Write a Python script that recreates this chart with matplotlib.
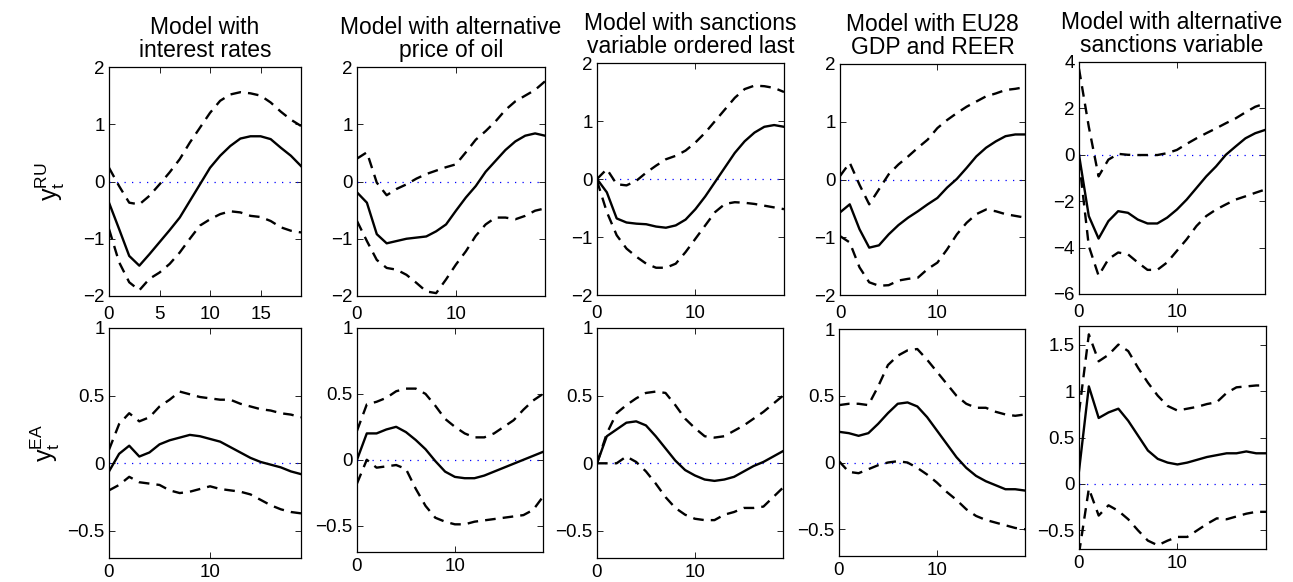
import numpy as np
import matplotlib
matplotlib.use("Agg")
import matplotlib.pyplot as plt
from matplotlib.ticker import FuncFormatter

plt.rcParams['font.family'] = ['Liberation Sans', 'DejaVu Sans']
plt.rcParams['axes.unicode_minus'] = True

# horizons 0..19
h = np.arange(20)

titles = ["Model with\ninterest rates",
          "Model with alternative\nprice of oil",
          "Model with sanctions\nvariable ordered last",
          "Model with EU28\nGDP and REER",
          "Model with alternative\nsanctions variable"]

# ---- Russian output (top row): median, upper band, lower band ----
ru_mid = [
    [-0.37, -0.83, -1.3, -1.47, -1.27, -1.06, -0.85, -0.63, -0.34, -0.05, 0.24, 0.45, 0.62, 0.75, 0.79, 0.79, 0.74, 0.59, 0.45, 0.27],
    [-0.19, -0.37, -0.92, -1.08, -1.04, -1.0, -0.98, -0.96, -0.87, -0.75, -0.51, -0.28, -0.08, 0.17, 0.36, 0.55, 0.7, 0.8, 0.84, 0.8],
    [0.0, -0.23, -0.68, -0.75, -0.77, -0.78, -0.82, -0.84, -0.8, -0.7, -0.52, -0.3, -0.05, 0.2, 0.45, 0.65, 0.8, 0.9, 0.93, 0.9],
    [-0.57, -0.43, -0.86, -1.18, -1.14, -0.95, -0.79, -0.66, -0.55, -0.43, -0.32, -0.14, 0.01, 0.2, 0.4, 0.55, 0.66, 0.75, 0.78, 0.78],
    [0.0, -2.64, -3.61, -2.86, -2.43, -2.5, -2.79, -2.96, -2.96, -2.71, -2.36, -1.93, -1.43, -0.93, -0.5, 0.0, 0.36, 0.71, 0.93, 1.07],
]
ru_up = [
    [0.24, -0.08, -0.37, -0.4, -0.25, -0.05, 0.16, 0.39, 0.68, 0.94, 1.2, 1.41, 1.52, 1.56, 1.54, 1.5, 1.38, 1.22, 1.08, 0.97],
    [0.4, 0.51, -0.02, -0.24, -0.13, -0.05, 0.05, 0.13, 0.19, 0.25, 0.3, 0.51, 0.73, 0.88, 1.05, 1.25, 1.4, 1.5, 1.6, 1.75],
    [0.0, 0.17, -0.09, -0.11, -0.03, 0.11, 0.23, 0.34, 0.4, 0.49, 0.63, 0.8, 1.0, 1.2, 1.4, 1.55, 1.61, 1.6, 1.57, 1.5],
    [0.06, 0.29, -0.09, -0.43, -0.17, 0.09, 0.26, 0.4, 0.55, 0.69, 0.89, 1.03, 1.15, 1.26, 1.35, 1.44, 1.49, 1.55, 1.57, 1.6],
    [3.71, 1.21, -0.93, -0.21, 0.04, 0.0, -0.01, -0.01, -0.01, 0.07, 0.21, 0.47, 0.71, 0.93, 1.14, 1.36, 1.57, 1.83, 2.07, 2.21],
]
ru_lo = [
    [-0.83, -1.41, -1.76, -1.9, -1.7, -1.59, -1.44, -1.24, -1.0, -0.77, -0.66, -0.57, -0.52, -0.54, -0.6, -0.62, -0.69, -0.8, -0.86, -0.89],
    [-0.69, -1.04, -1.37, -1.51, -1.54, -1.63, -1.77, -1.92, -1.95, -1.71, -1.45, -1.22, -0.95, -0.75, -0.63, -0.63, -0.66, -0.6, -0.51, -0.47],
    [-0.03, -0.57, -0.97, -1.2, -1.34, -1.46, -1.53, -1.53, -1.46, -1.26, -1.03, -0.8, -0.57, -0.43, -0.4, -0.41, -0.43, -0.46, -0.49, -0.52],
    [-0.98, -1.09, -1.52, -1.78, -1.84, -1.83, -1.75, -1.72, -1.7, -1.55, -1.44, -1.21, -0.95, -0.75, -0.6, -0.52, -0.55, -0.6, -0.63, -0.66],
    [-0.21, -3.93, -5.21, -4.5, -4.21, -4.29, -4.64, -4.96, -4.96, -4.64, -4.14, -3.64, -3.07, -2.64, -2.36, -2.14, -1.93, -1.79, -1.64, -1.5],
]

# ---- Euro area output (bottom row) ----
ea_mid = [
    [-0.06, 0.07, 0.13, 0.05, 0.08, 0.14, 0.17, 0.19, 0.21, 0.2, 0.18, 0.16, 0.12, 0.08, 0.04, 0.01, -0.01, -0.03, -0.06, -0.08],
    [0.0, 0.2, 0.2, 0.23, 0.25, 0.21, 0.15, 0.08, -0.01, -0.09, -0.13, -0.14, -0.14, -0.12, -0.09, -0.06, -0.03, 0.0, 0.03, 0.06],
    [0.0, 0.2, 0.25, 0.3, 0.31, 0.28, 0.2, 0.11, 0.02, -0.05, -0.09, -0.12, -0.13, -0.12, -0.1, -0.06, -0.02, 0.01, 0.05, 0.09],
    [0.23, 0.22, 0.2, 0.22, 0.29, 0.37, 0.44, 0.45, 0.42, 0.34, 0.24, 0.14, 0.04, -0.04, -0.1, -0.14, -0.17, -0.2, -0.2, -0.21],
    [0.14, 1.05, 0.71, 0.77, 0.81, 0.68, 0.52, 0.36, 0.27, 0.23, 0.21, 0.23, 0.26, 0.29, 0.31, 0.33, 0.33, 0.35, 0.33, 0.33],
]
ea_up = [
    [0.1, 0.29, 0.37, 0.31, 0.34, 0.42, 0.47, 0.53, 0.51, 0.49, 0.48, 0.47, 0.47, 0.44, 0.42, 0.4, 0.39, 0.37, 0.36, 0.34],
    [0.22, 0.42, 0.44, 0.47, 0.52, 0.54, 0.54, 0.5, 0.41, 0.31, 0.25, 0.2, 0.17, 0.17, 0.2, 0.25, 0.3, 0.38, 0.45, 0.5],
    [0.0, 0.22, 0.37, 0.43, 0.48, 0.52, 0.53, 0.52, 0.43, 0.33, 0.26, 0.2, 0.19, 0.2, 0.24, 0.28, 0.33, 0.38, 0.44, 0.5],
    [0.43, 0.44, 0.44, 0.43, 0.57, 0.73, 0.8, 0.84, 0.85, 0.77, 0.68, 0.59, 0.5, 0.44, 0.41, 0.41, 0.38, 0.36, 0.35, 0.36],
    [0.77, 1.61, 1.32, 1.39, 1.5, 1.43, 1.25, 1.09, 0.95, 0.84, 0.79, 0.81, 0.83, 0.86, 0.88, 0.98, 1.04, 1.05, 1.06, 1.06],
]
ea_lo = [
    [-0.2, -0.16, -0.1, -0.14, -0.15, -0.16, -0.2, -0.22, -0.21, -0.19, -0.17, -0.19, -0.2, -0.21, -0.23, -0.27, -0.31, -0.34, -0.36, -0.37],
    [-0.18, 0.0, -0.06, -0.05, -0.04, -0.07, -0.22, -0.35, -0.44, -0.47, -0.49, -0.49, -0.47, -0.46, -0.45, -0.44, -0.43, -0.42, -0.38, -0.28],
    [0.0, 0.0, 0.0, 0.05, 0.01, -0.06, -0.15, -0.25, -0.33, -0.38, -0.41, -0.42, -0.42, -0.38, -0.36, -0.33, -0.33, -0.32, -0.25, -0.18],
    [0.01, -0.07, -0.08, -0.05, -0.02, 0.0, 0.01, 0.0, -0.04, -0.09, -0.15, -0.22, -0.28, -0.35, -0.4, -0.43, -0.45, -0.47, -0.49, -0.5],
    [-0.75, -0.05, -0.34, -0.23, -0.29, -0.38, -0.5, -0.61, -0.66, -0.61, -0.57, -0.57, -0.5, -0.43, -0.37, -0.38, -0.35, -0.32, -0.3, -0.3],
]

ru_ylim = [(-2, 2)] * 4 + [(-6, 4)]
ru_yticks = [[-2, -1, 0, 1, 2]] * 4 + [[-6, -4, -2, 0, 2, 4]]
ea_ylim = [(-0.7, 1)] * 4 + [(-0.7, 1.7)]
ea_yticks = [[-0.5, 0, 0.5, 1]] * 4 + [[-0.5, 0, 0.5, 1, 1.5]]

# axes boxes in pixels: left, right, top, bottom
top_boxes = [(109, 301, 67, 296), (357, 545, 67, 296), (597, 784, 63, 295),
             (840, 1025, 64, 295), (1079, 1265, 62, 294)]
bot_boxes = [(109, 301, 328, 558), (357, 543, 328, 552), (597, 783, 328, 558),
             (839, 1025, 329, 556), (1079, 1266, 326, 549)]

W, H = 1293, 582
fig = plt.figure(figsize=(W / 100, H / 100), dpi=100)

fmt = FuncFormatter(lambda v, p: ('%g' % v).replace('-', '\u2212'))


def make_ax(box):
    l, r, t, b = box
    return fig.add_axes([l / W, 1 - b / H, (r - l) / W, (b - t) / H])


def draw(ax, mid, up, lo, ylim, yticks, xticks, xpad):
    ax.plot(h, np.zeros_like(h), color='blue', lw=0.9, dashes=(1.0, 5.0))
    ax.plot(h, up, '--', color='black', lw=1.7, dashes=(4.5, 3))
    ax.plot(h, lo, '--', color='black', lw=1.7, dashes=(4.5, 3))
    ax.plot(h, mid, '-', color='black', lw=1.7)
    ax.set_xlim(0, 19)
    ax.set_ylim(*ylim)
    ax.set_xticks(xticks)
    ax.set_yticks(yticks)
    ax.xaxis.set_major_formatter(fmt)
    ax.yaxis.set_major_formatter(fmt)
    ax.tick_params(direction='in', top=True, right=True, length=4, width=0.6,
                   labelsize=13.5)
    ax.tick_params(axis='x', pad=xpad)
    ax.tick_params(axis='y', pad=3)
    for s in ax.spines.values():
        s.set_linewidth(0.9)


for i in range(5):
    ax = make_ax(top_boxes[i])
    xt = [0, 5, 10, 15] if i == 0 else [0, 10]
    draw(ax, ru_mid[i], ru_up[i], ru_lo[i], ru_ylim[i], ru_yticks[i], xt, 7)
    ax.set_title(titles[i], fontsize=16.5, pad=7, linespacing=1.0)
    if i == 0:
        ax.set_ylabel(r'$\mathregular{y_t^{RU}}$', fontsize=18, labelpad=12)

    ax = make_ax(bot_boxes[i])
    draw(ax, ea_mid[i], ea_up[i], ea_lo[i], ea_ylim[i], ea_yticks[i], [0, 10], 4)
    if i == 0:
        ax.set_ylabel(r'$\mathregular{y_t^{EA}}$', fontsize=18, labelpad=4)

fig.savefig('out.png', dpi=100)
